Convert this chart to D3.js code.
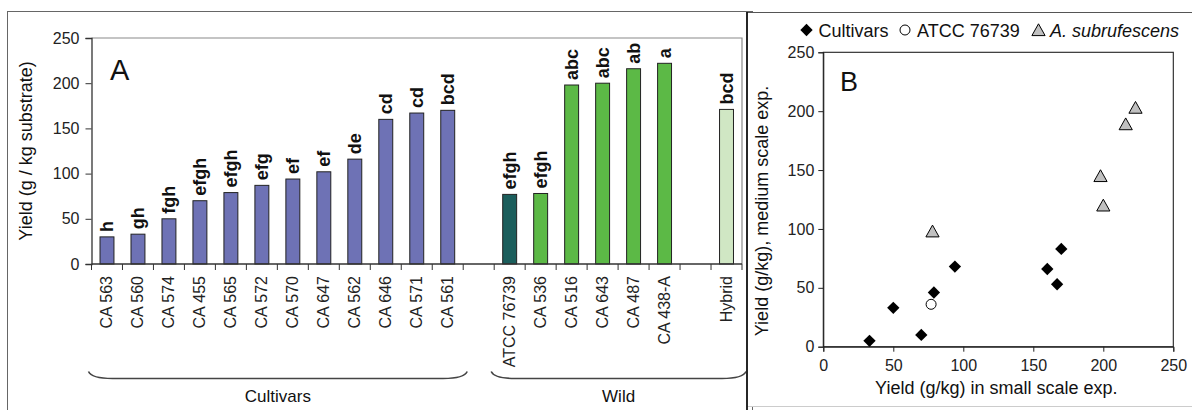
<!DOCTYPE html>
<html>
<head>
<meta charset="utf-8">
<script src="https://cdn.jsdelivr.net/npm/d3@7"></script>
<style>
  html, body { margin: 0; padding: 0; background: #fff; }
  svg { display: block; font-family: Arial, "Liberation Sans", sans-serif; }
</style>
</head>
<body>
<svg id="chart" width="1192" height="410"></svg>
<script>
// ---- Panel A: yield per strain (g / kg substrate) ----
const cultivarNames   = ["CA 563","CA 560","CA 574","CA 455","CA 565","CA 572","CA 570","CA 647","CA 562","CA 646","CA 571","CA 561"];
const cultivarYield   = [30, 33, 50, 70, 79, 87, 94, 102, 116, 160, 167, 170];
const cultivarLetters = ["h","gh","fgh","efgh","efgh","efg","ef","ef","de","cd","cd","bcd"];

const wildNames   = ["ATCC 76739","CA 536","CA 516","CA 643","CA 487","CA 438-A"];
const wildYield   = [77, 78, 198, 200, 216, 222];
const wildLetters = ["efgh","efgh","abc","abc","ab","a"];

const hybridNames   = ["Hybrid"];
const hybridYield   = [171];
const hybridLetters = ["bcd"];

const yTicksA = [0, 50, 100, 150, 200, 250];

// ---- Panel B: small scale vs medium scale yield (g/kg) ----
const cultivarSmall  = [33, 50, 70, 79, 94, 160, 167, 170];
const cultivarMedium = [5, 33, 10, 46, 68, 66, 53, 83];
const atccSmall  = [77];
const atccMedium = [36];
const subrufSmall  = [78, 198, 200, 216, 223];
const subrufMedium = [98, 145, 120, 189, 203];

const ticksB = [0, 50, 100, 150, 200, 250];

const svg = d3.select("#chart");

// ================= Panel A =================
const colors = { cultivar: "#6e72b5", atcc: "#1b5e5c", wild: "#5cb946", hybrid: "#d0e7c4" };

const barRows = [];
cultivarNames.forEach((n, i) => barRows.push({ key: n, v: cultivarYield[i], sig: cultivarLetters[i], fill: colors.cultivar }));
barRows.push({ key: "__gap1", v: null });
wildNames.forEach((n, i) => barRows.push({ key: n, v: wildYield[i], sig: wildLetters[i], fill: i === 0 ? colors.atcc : colors.wild }));
barRows.push({ key: "__gap2", v: null });
hybridNames.forEach((n, i) => barRows.push({ key: n, v: hybridYield[i], sig: hybridLetters[i], fill: colors.hybrid }));

const A = { left: 91.5, right: 742, top: 38, bottom: 264 };
const xA = d3.scaleBand().domain(barRows.map(d => d.key)).range([A.left, A.right]).padding(0);
const yA = d3.scaleLinear().domain([0, 250]).range([A.bottom, A.top]);
const barW = xA.bandwidth() * 0.45;

const gA = svg.append("g");

// outer frame of panel A
gA.append("rect").attr("x", 7.5).attr("y", 11.5).attr("width", 745).attr("height", 420)
  .attr("fill", "none").attr("stroke", "#666").attr("stroke-width", 1);

// plot-area frame (top and right edges)
gA.append("path")
  .attr("d", `M${A.left},${yA(250)}H${A.right}V${A.bottom}`)
  .attr("fill", "none").attr("stroke", "#8a8a8a").attr("stroke-width", 1.2);

// bars
const real = barRows.filter(d => d.v !== null);
gA.selectAll("rect.bar").data(real).join("rect")
  .attr("class", "bar")
  .attr("x", d => xA(d.key) + (xA.bandwidth() - barW) / 2)
  .attr("y", d => yA(d.v))
  .attr("width", barW)
  .attr("height", d => yA(0) - yA(d.v))
  .attr("fill", d => d.fill)
  .attr("stroke", "#222").attr("stroke-width", 1);

// significance letters
gA.selectAll("text.sig").data(real).join("text")
  .attr("class", "sig")
  .attr("transform", d => `translate(${xA(d.key) + xA.bandwidth() / 2 + 6.5},${yA(d.v) - 5}) rotate(-90)`)
  .attr("font-size", 18).attr("font-weight", "bold").attr("fill", "#111")
  .text(d => d.sig);

// y axis
const yAxisA = d3.axisLeft(yA).tickValues(yTicksA).tickSize(6).tickPadding(6);
const gyA = gA.append("g").attr("transform", `translate(${A.left},0)`).call(yAxisA);
gyA.select(".domain").attr("stroke", "#333").attr("stroke-width", 1.3);
gyA.selectAll(".tick line").attr("stroke", "#333");
gyA.selectAll(".tick text").attr("font-size", 16).attr("fill", "#222").attr("font-family", "Arial, 'Liberation Sans', sans-serif");

// x axis: ticks sit on slot boundaries, labels at slot centres
const gxA = gA.append("g");
gxA.append("line").attr("x1", A.left).attr("x2", A.right).attr("y1", A.bottom).attr("y2", A.bottom)
  .attr("stroke", "#333").attr("stroke-width", 1.3);
const boundaries = d3.range(barRows.length + 1).map(i => xA.range()[0] + i * xA.step());
gxA.selectAll("line.tk").data(boundaries).join("line")
  .attr("class", "tk")
  .attr("x1", d => d).attr("x2", d => d)
  .attr("y1", A.bottom).attr("y2", A.bottom + 6)
  .attr("stroke", "#333");
gxA.selectAll("text.cat").data(real).join("text")
  .attr("class", "cat")
  .attr("transform", d => `translate(${xA(d.key) + xA.bandwidth() / 2 + 5.5},${A.bottom + 12}) rotate(-90)`)
  .attr("text-anchor", "end").attr("font-size", 16).attr("fill", "#222")
  .text(d => d.key);

// y axis title and panel letter
gA.append("text")
  .attr("transform", `translate(32,${(A.top + A.bottom) / 2}) rotate(-90)`)
  .attr("text-anchor", "middle").attr("font-size", 18).attr("fill", "#111")
  .text("Yield (g / kg substrate)");
gA.append("text").attr("x", 110).attr("y", 79.5).attr("font-size", 29).attr("fill", "#111").text("A");

// group braces below the category labels
function brace(x0, x1) {
  const top = 371.5, bot = 378.5, w = 24;
  return `M${x0},${top} Q${x0 + 3},${bot} ${x0 + w},${bot} H${x1 - w} Q${x1 - 3},${bot} ${x1},${top}`;
}
const groups = [
  { label: "Cultivars", first: cultivarNames[0], last: cultivarNames[cultivarNames.length - 1] },
  { label: "Wild", first: wildNames[0], last: hybridNames[0] }
];
groups.forEach(g => {
  const x0 = xA(g.first) - 3, x1 = xA(g.last) + xA.bandwidth() + 4;
  gA.append("path").attr("d", brace(x0, x1)).attr("fill", "none").attr("stroke", "#444").attr("stroke-width", 1.6);
  gA.append("text").attr("x", (x0 + x1) / 2).attr("y", 401.5).attr("text-anchor", "middle")
    .attr("font-size", 17).attr("fill", "#111").text(g.label);
});

// ================= Panel B =================
const B = { left: 823.3, right: 1173.3, top: 52.3, bottom: 346.7 };
const xB = d3.scaleLinear().domain([0, 250]).range([B.left, B.right]);
const yB = d3.scaleLinear().domain([0, 250]).range([B.bottom, B.top]);

const gB = svg.append("g");

// panel B frame
gB.append("rect").attr("x", 747).attr("y", 12.5).attr("width", 460).attr("height", 394)
  .attr("fill", "#fff").attr("stroke", "#ccc").attr("stroke-width", 1);
gB.append("line").attr("x1", 747).attr("x2", 1192).attr("y1", 12.5).attr("y2", 12.5).attr("stroke", "#555").attr("stroke-width", 1.2);
gB.append("line").attr("x1", 747).attr("x2", 747).attr("y1", 12).attr("y2", 410).attr("stroke", "#111").attr("stroke-width", 1.8);

gB.append("rect").attr("x", B.left).attr("y", B.top).attr("width", B.right - B.left).attr("height", B.bottom - B.top)
  .attr("fill", "none").attr("stroke", "#222").attr("stroke-width", 1.1);

const gxB = gB.append("g").attr("transform", `translate(0,${B.bottom})`)
  .call(d3.axisBottom(xB).tickValues(ticksB).tickSize(5).tickPadding(8));
const gyB = gB.append("g").attr("transform", `translate(${B.left},0)`)
  .call(d3.axisLeft(yB).tickValues(ticksB).tickSize(5).tickPadding(4));
[gxB, gyB].forEach(g => {
  g.select(".domain").attr("stroke", "#222");
  g.selectAll(".tick line").attr("stroke", "#222");
  g.selectAll(".tick text").attr("font-size", 16).attr("fill", "#222").attr("font-family", "Arial, 'Liberation Sans', sans-serif");
});

gB.append("text").attr("x", (B.left + B.right) / 2 - 2).attr("y", 394).attr("text-anchor", "middle")
  .attr("font-size", 18).attr("fill", "#111").text("Yield (g/kg) in small scale exp.");
gB.append("text").attr("transform", `translate(768,211) rotate(-90)`).attr("text-anchor", "middle")
  .attr("font-size", 18).attr("fill", "#111").text("Yield (g/kg), medium scale exp.");
gB.append("text").attr("x", 840).attr("y", 90.5).attr("font-size", 27).attr("fill", "#111").text("B");

// markers
const diamond = d3.symbol().type(d3.symbolSquare).size(76)();
const triangle = "M0,-6.2L6.6,5.6L-6.6,5.6Z";

const cultPts = cultivarSmall.map((s, i) => ({ s, m: cultivarMedium[i] }));
const atccPts = atccSmall.map((s, i) => ({ s, m: atccMedium[i] }));
const subPts = subrufSmall.map((s, i) => ({ s, m: subrufMedium[i] }));

gB.selectAll("path.cult").data(cultPts).join("path")
  .attr("class", "cult").attr("d", diamond)
  .attr("transform", d => `translate(${xB(d.s)},${yB(d.m)}) rotate(45)`)
  .attr("fill", "#000");
gB.selectAll("circle.atcc").data(atccPts).join("circle")
  .attr("class", "atcc").attr("cx", d => xB(d.s)).attr("cy", d => yB(d.m)).attr("r", 5)
  .attr("fill", "#fff").attr("stroke", "#000").attr("stroke-width", 1);
gB.selectAll("path.sub").data(subPts).join("path")
  .attr("class", "sub").attr("d", triangle)
  .attr("transform", d => `translate(${xB(d.s)},${yB(d.m)})`)
  .attr("fill", "#c0c0c0").attr("stroke", "#000").attr("stroke-width", 1);

// legend
const lg = gB.append("g");
lg.append("path").attr("d", diamond).attr("transform", "translate(806.5,30) rotate(45)").attr("fill", "#000");
lg.append("text").attr("x", 818.5).attr("y", 36.5).attr("font-size", 18).attr("fill", "#111").text("Cultivars");
lg.append("circle").attr("cx", 905).attr("cy", 30).attr("r", 5).attr("fill", "#fff").attr("stroke", "#000");
lg.append("text").attr("x", 917).attr("y", 36.5).attr("font-size", 18).attr("fill", "#111").text("ATCC 76739");
lg.append("path").attr("d", triangle).attr("transform", "translate(1038.5,30)").attr("fill", "#c0c0c0").attr("stroke", "#000");
lg.append("text").attr("x", 1050).attr("y", 36.5).attr("font-size", 18).attr("font-style", "italic").attr("fill", "#111").text("A. subrufescens");
</script>
</body>
</html>
